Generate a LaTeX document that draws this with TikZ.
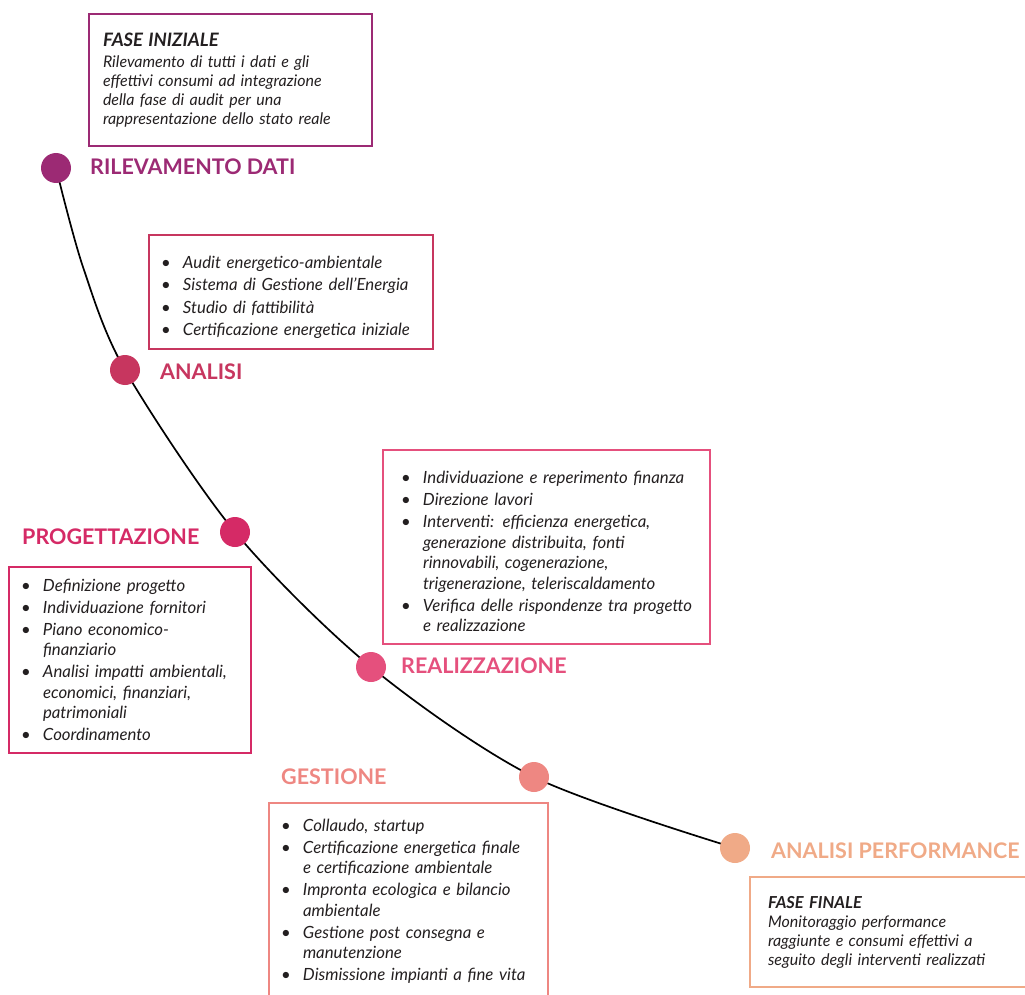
\documentclass[tikz,border=0pt]{standalone}
\usepackage{fontspec}
\setmainfont{Lato}

\definecolor{cRil}{HTML}{9C2A74}
\definecolor{cAna}{HTML}{C7365F}
\definecolor{cPro}{HTML}{D52A66}
\definecolor{cRea}{HTML}{E5507D}
\definecolor{cGes}{HTML}{EE8782}
\definecolor{cPer}{HTML}{F0AA87}
\definecolor{txt}{HTML}{231F20}

% voce con pallino e riga di continuazione
\newcommand{\bul}[1]{\makebox[22pt][l]{\textbullet}\mbox{#1}}
\newcommand{\cnt}[1]{\makebox[22pt][l]{}\mbox{#1}}
% spazio in piu sopra la prima riga
\newcommand{\topgap}[1]{\rule{0pt}{#1}}

\tikzset{
  dot/.style={circle, fill=#1, minimum size=30pt, inner sep=0pt},
  phase/.style={text=#1, anchor=west, inner sep=0pt,
    font=\fontsize{21.5}{24}\selectfont\bfseries},
  infobox/.style={draw=#1, line width=1.8pt, anchor=north west, outer sep=0pt,
    align=left, text=txt, inner ysep=6pt},
  body/.style={font=\itshape\fontsize{16.8}{20.5}\selectfont},
  small/.style={font=\itshape\fontsize{16}{19}\selectfont}
}

\begin{document}
\begin{tikzpicture}[x=1pt,y=-1pt]
  \useasboundingbox (0,0) rectangle (1025,995);
  \coordinate (p1) at (56,168);
  \coordinate (q1) at (83,267);
  \coordinate (p2) at (125,370);
  \coordinate (p3) at (235,532);
  \coordinate (p4) at (371,667);
  \coordinate (p5) at (534,777);
  \coordinate (p6) at (735,848);
  \draw[line width=1.7pt] plot[smooth] coordinates {(p1) (q1) (p2) (p3) (p4) (p5) (p6)};

  \node[dot=cRil] (rilev) at (p1) {};
  \node[dot=cAna] (anal) at (p2) {};
  \node[dot=cPro] (proget) at (p3) {};
  \node[dot=cRea] (realiz) at (p4) {};
  \node[dot=cGes] (gest) at (p5) {};
  \node[dot=cPer] (perf) at (p6) {};

  \node[phase=cRil] (rilevT) at (90,167) {RILEVAMENTO DATI};
  \node[phase=cAna] (analT) at (160,372) {ANALISI};
  \node[phase=cPro] (progetT) at (22,537) {PROGETTAZIONE};
  \node[phase=cRea] (realizT) at (401,666) {REALIZZAZIONE};
  \node[phase=cGes] (gestT) at (281,777) {GESTIONE};
  \node[phase=cPer] (perfT) at (771,851) {ANALISI PERFORMANCE};

  % riquadri
  \node[infobox=cRil, small, text width=255pt, inner xsep=14pt, minimum height=132pt] (rilevB) at (89,14) {%
    {\fontsize{18.5}{19}\selectfont\bfseries FASE INIZIALE}\\[1.5pt]
    Rilevamento di tutti i dati e gli\\
    effettivi consumi ad integrazione\\
    della fase di audit per una\\
    rappresentazione dello stato reale};
  \node[infobox=cAna, body, text width=260pt, inner xsep=12pt, minimum height=114pt] (analB) at (149,235) {%
    \topgap{23pt}\bul{Audit energetico-ambientale}\\[2pt]
    \bul{Sistema di Gestione dell'Energia}\\[2pt]
    \bul{Studio di fattibilità}\\[2pt]
    \bul{Certificazione energetica iniziale}};
  \node[infobox=cPro, body, text width=218pt, inner xsep=12pt, minimum height=186pt] (progetB) at (9,567) {%
    \bul{Definizione progetto}\\[1.5pt]
    \bul{Individuazione fornitori}\\[1.5pt]
    \bul{Piano economico-}\\
    \cnt{finanziario}\\[1.5pt]
    \bul{Analisi impatti ambientali,}\\
    \cnt{economici, finanziari,}\\
    \cnt{patrimoniali}\\[1.5pt]
    \bul{Coordinamento}};
  \node[infobox=cRea, body, text width=291pt, inner xsep=18pt, minimum height=194pt] (realizB) at (383,450) {%
    \topgap{22pt}\bul{Individuazione e reperimento finanza}\\[1.5pt]
    \bul{Direzione lavori}\\[1.5pt]
    \bul{Interventi: efficienza energetica,}\\
    \cnt{generazione distribuita, fonti}\\
    \cnt{rinnovabili, cogenerazione,}\\
    \cnt{trigenerazione, teleriscaldamento}\\[1.5pt]
    \bul{Verifica delle rispondenze tra progetto}\\
    \cnt{e realizzazione}};
  \node[infobox=cGes, body, text width=255pt, inner xsep=12pt, minimum height=196pt] (gestB) at (269,803) {%
    \bul{Collaudo, startup}\\[1.5pt]
    \bul{Certificazione energetica finale}\\
    \cnt{e certificazione ambientale}\\[1.5pt]
    \bul{Impronta ecologica e bilancio}\\
    \cnt{ambientale}\\[1.5pt]
    \bul{Gestione post consegna e}\\
    \cnt{manutenzione}\\[1.5pt]
    \bul{Dismissione impianti a fine vita}};
  \node[infobox=cPer, small, text width=270pt, inner xsep=18pt, minimum height=110pt] (perfB) at (750,877) {%
    {\fontsize{16.5}{19}\selectfont\bfseries FASE FINALE}\\
    Monitoraggio performance\\
    raggiunte e consumi effettivi a\\
    seguito degli interventi realizzati};
\end{tikzpicture}
\end{document}
